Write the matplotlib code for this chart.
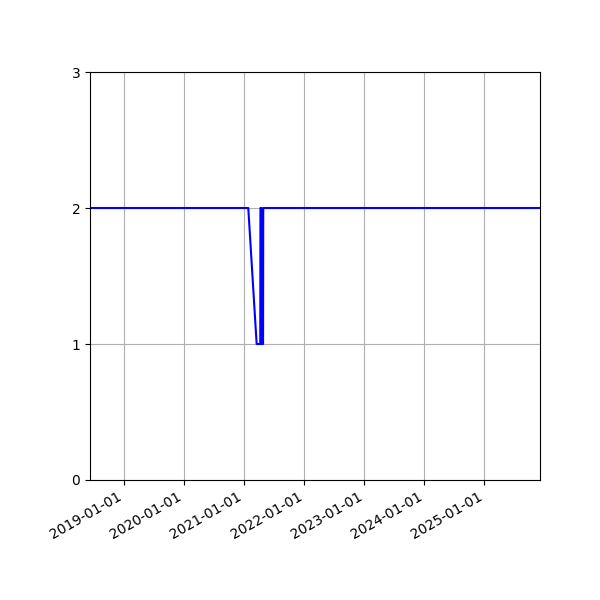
import matplotlib
matplotlib.use('Agg')
import matplotlib.pyplot as plt
import matplotlib.dates as mdates
import numpy as np

dates = np.array([
    '2018-06-07', '2021-01-25', '2021-03-17', '2021-04-08', '2021-04-09',
    '2021-04-15', '2021-04-16', '2021-04-25', '2021-04-26', '2021-05-02',
    '2025-12-05',
], dtype='datetime64[D]')
values = [2, 2, 1, 1, 2, 2, 1, 1, 2, 2, 2]

fig, ax = plt.subplots(figsize=(6, 6), dpi=100)
ax.plot(dates, values, color='blue')
ax.set_xlim(dates[0], dates[-1])
ax.set_ylim(0, 3)
ax.set_yticks([0, 1, 2, 3])
ax.xaxis.set_major_locator(mdates.YearLocator())
ax.xaxis.set_major_formatter(mdates.DateFormatter('%Y-%m-%d'))
ax.grid()
fig.autofmt_xdate()
fig.subplots_adjust(left=0.15, right=0.9, top=0.88, bottom=0.2)
fig.savefig('out.png')
